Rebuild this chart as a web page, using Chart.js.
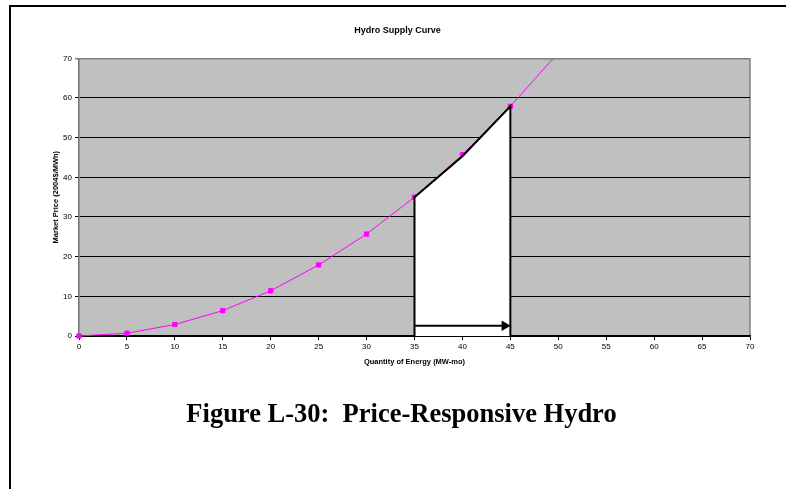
<!DOCTYPE html>
<html>
<head>
<meta charset="utf-8">
<script src="https://cdn.jsdelivr.net/npm/chart.js"></script>
<style>
  body { margin: 0; background: #fff; }
  #frame { position: absolute; left: 9px; top: 5px; width: 780px; height: 490px;
           border-left: 2px solid #000; border-top: 2px solid #000; }
  #wrap { position: absolute; left: 0; top: 0; width: 786px; height: 489px; }
  #caption { position: absolute; left: 0; top: 400px; width: 803px; text-align: center;
             font-family: "Liberation Serif", "Times New Roman", serif; font-weight: bold;
             font-size: 26.5px; line-height: 1; white-space: pre; color: #000; }
</style>
</head>
<body>
<div id="frame"></div>
<div id="wrap"><canvas id="grafico"></canvas></div>
<div id="caption">Figure L-30:  Price-Responsive Hydro</div>
<script>
// supply curve
const quantity = [0, 5, 10, 15, 20, 25, 30, 35, 40, 45, 50];
const price = [0, 0.7, 2.9, 6.4, 11.4, 17.9, 25.7, 35, 45.7, 57.9, 71.4];

// white block between 35 and 45 MW-mo
const blockX = [35, 35, 40, 45, 45];
const blockY = [0, 35, 45.3, 57.9, 0];

// arrow along the bottom of the block
const arrowX = [35, 44.4];
const arrowY = [2.6, 2.6];

const xTicks = [0, 5, 10, 15, 20, 25, 30, 35, 40, 45, 50, 55, 60, 65, 70];
const yTicks = [0, 10, 20, 30, 40, 50, 60, 70];

const pts = (xs, ys) => xs.map((x, i) => ({ x: x, y: ys[i] }));

// grey plot area like the old excel chart
const fundoPlot = {
    id: 'fundoPlot',
    beforeDraw(chart) {
        const a = chart.chartArea, c = chart.ctx;
        c.save();
        c.fillStyle = '#c0c0c0';
        c.fillRect(a.left, a.top, a.right - a.left, a.bottom - a.top);
        c.strokeStyle = '#808080';
        c.lineWidth = 1.5;
        c.beginPath();
        c.moveTo(a.right, a.top);
        c.lineTo(a.right, a.bottom);
        c.stroke();
        c.restore();
    }
};

const ctx = document.getElementById('grafico').getContext('2d');

new Chart(ctx, {
    type: 'line',
    data: {
        datasets: [{
            data: pts(quantity, price),
            borderColor: '#ff00ff',
            borderWidth: 1,
            backgroundColor: '#ff00ff',
            pointStyle: 'rect',
            pointRadius: c => (c.raw && c.raw.y > 70 ? 0 : 3),
            pointBorderWidth: 1,
            fill: false,
            clip: { left: 5, bottom: 5, top: 0, right: 0 },
            order: 3
        }, {
            data: pts(blockX, blockY),
            fill: 'origin',
            backgroundColor: '#ffffff',
            borderColor: '#000000',
            borderWidth: 2,
            pointRadius: 0,
            clip: 2,
            order: 2
        }, {
            data: pts(arrowX, arrowY),
            borderColor: '#000000',
            borderWidth: 2,
            backgroundColor: '#000000',
            pointStyle: 'triangle',
            rotation: 90,
            pointRadius: c => (c.dataIndex === 1 ? 6 : 0),
            pointBorderWidth: 0,
            fill: false,
            order: 1
        }]
    },
    options: {
        responsive: true,
        maintainAspectRatio: false,
        animation: false,
        layout: { padding: { left: 45, right: 36, top: 25.5, bottom: 122 } },
        plugins: {
            legend: { display: false },
            tooltip: { enabled: false },
            title: {
                display: true,
                text: 'Hydro Supply Curve',
                color: '#000',
                font: { family: 'Liberation Sans, Arial, sans-serif', size: 9, weight: 'bold' },
                padding: { top: 0, bottom: 22 }
            }
        },
        scales: {
            x: {
                type: 'linear',
                min: 0,
                max: 70,
                afterBuildTicks: s => { s.ticks = xTicks.map(v => ({ value: v })); },
                afterFit: s => { s.height = 31; },
                grid: { drawOnChartArea: false, drawTicks: true, tickLength: 4, color: '#000' },
                border: { color: '#000', width: 1.5 },
                ticks: {
                    color: '#000',
                    padding: 2,
                    maxRotation: 0,
                    font: { family: 'Liberation Sans, Arial, sans-serif', size: 8 }
                },
                title: {
                    display: true,
                    text: 'Quantity of Energy (MW-mo)',
                    color: '#000',
                    padding: { top: 0, bottom: 0.5 },
                    font: { family: 'Liberation Sans, Arial, sans-serif', size: 7.5, weight: 'bold' }
                }
            },
            y: {
                type: 'linear',
                min: 0,
                max: 70,
                afterBuildTicks: s => { s.ticks = yTicks.map(v => ({ value: v })); },
                afterFit: s => { s.width = 34; },
                grid: {
                    color: c => (c.tick && c.tick.value === 70 ? '#808080' : '#000'),
                    lineWidth: c => (c.tick && c.tick.value === 70 ? 1.5 : 1),
                    tickLength: 4
                },
                border: { color: '#707070', width: 1.5 },
                ticks: {
                    color: '#000',
                    padding: 3,
                    font: { family: 'Liberation Sans, Arial, sans-serif', size: 8 }
                },
                title: {
                    display: true,
                    text: 'Market Price (2004$/MWh)',
                    color: '#000',
                    padding: { top: 6, bottom: 0 },
                    font: { family: 'Liberation Sans, Arial, sans-serif', size: 7.5, weight: 'bold' }
                }
            }
        }
    },
    plugins: [fundoPlot]
});
</script>
</body>
</html>
